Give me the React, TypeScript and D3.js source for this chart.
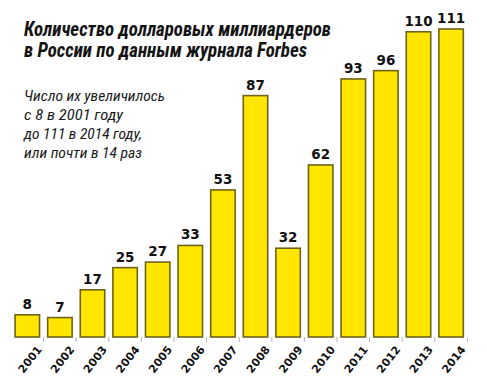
import React from "react";
import * as d3 from "d3";

const years = ["2001","2002","2003","2004","2005","2006","2007","2008","2009","2010","2011","2012","2013","2014"];
const values = [8, 7, 17, 25, 27, 33, 53, 87, 32, 62, 93, 96, 110, 111];
const titleLines = ["Количество долларовых миллиардеров", "в России по данным журнала Forbes"];
const noteLines = ["Число их увеличилось", "с 8 в 2001 году", "до 111 в 2014 году,", "или почти в 14 раз"];

const W = 487, H = 383;

export default function App() {
  const x = d3.scaleBand<string>().domain(years).range([11, 467.4]).paddingInner(0.25).paddingOuter(0.125);
  const y = d3.scaleLinear().domain([0, 111]).range([337, 29]);
  const step = x.step();
  const titleWidths = [307, 283];
  const noteWidths = [141, 99, 118, 118];
  const narrow = "'Liberation Sans Narrow', 'Roboto Condensed', 'Liberation Sans', Arial, sans-serif";
  return (
    <svg width={W} height={H} style={{ position: "absolute", left: 0, top: 0, background: "#fff" }}>
      <rect x={0} y={0} width={W} height={H} fill="#fff" />
      {titleLines.map((t, i) => (
        <text key={t} x={24} y={36 + i * 21} fontFamily={narrow} fontWeight="bold" fontStyle="italic" fontSize={19.5}
          fill="#141414" textLength={titleWidths[i]} lengthAdjust="spacingAndGlyphs">{t}</text>
      ))}
      {noteLines.map((t, i) => (
        <text key={t} x={24} y={101 + i * 19} fontFamily={narrow} fontStyle="italic" fontSize={14.5}
          fill="#1a1a1a" textLength={noteWidths[i]} lengthAdjust="spacingAndGlyphs">{t}</text>
      ))}
      {years.map((yr, i) => {
        const bx = x(yr)!;
        return (
          <g key={yr}>
            <rect x={bx} y={y(values[i])} width={x.bandwidth()} height={y(0) - y(values[i])}
              fill="#FFE600" stroke="#6e6318" strokeWidth={1.6} />
            <text x={bx + x.bandwidth() / 2} y={y(values[i]) - 6} textAnchor="middle"
              fontFamily="'DejaVu Sans', Verdana, sans-serif" fontWeight="bold" fontSize={13.5} fill="#111">{values[i]}</text>
            <line x1={bx + x.bandwidth() + step * 0.125} x2={bx + x.bandwidth() + step * 0.125} y1={337} y2={342}
              stroke="#b5b5b5" strokeWidth={1} />
            <text transform={`translate(${bx + x.bandwidth() / 2 + 9},345) rotate(-52)`} textAnchor="end" dy="0.7em"
              fontFamily="'DejaVu Sans', Verdana, sans-serif" fontWeight="bold" fontSize={11} fill="#111">{yr}</text>
          </g>
        );
      })}
    </svg>
  );
}
